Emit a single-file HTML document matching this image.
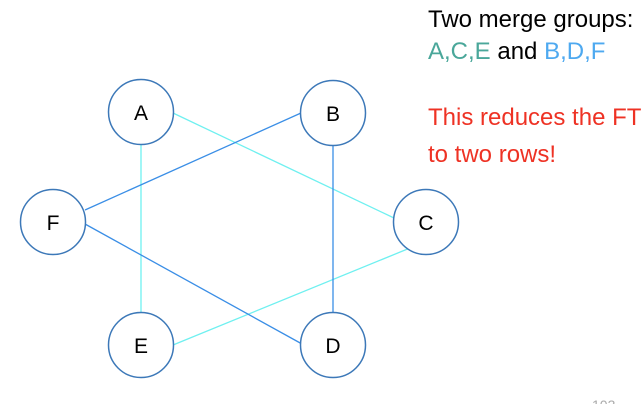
<!DOCTYPE html>
<html><head><meta charset="utf-8"><style>
body{margin:0;width:644px;height:404px;overflow:hidden;background:#fff;font-family:"Liberation Sans",sans-serif}
.t{position:absolute;left:428px;font-size:24px;white-space:nowrap;line-height:1;font-family:"Liberation Sans",sans-serif}
</style></head><body>
<svg width="644" height="404" style="position:absolute;left:0;top:0">
<g stroke-width="1.3" fill="none">
<line x1="173" y1="113" x2="394" y2="218" stroke="#6ff0f0"/>
<line x1="141" y1="145" x2="141" y2="312" stroke="#6ff0f0"/>
<line x1="410" y1="248" x2="173" y2="345" stroke="#6ff0f0"/>
<line x1="301" y1="113" x2="85" y2="210" stroke="#3a8ee6"/>
<line x1="333" y1="145" x2="333" y2="312" stroke="#3a8ee6"/>
<line x1="85" y1="224" x2="302" y2="344" stroke="#3a8ee6"/>
</g>
<g stroke="#3c78b8" stroke-width="1.5" fill="#fff">
<circle cx="141" cy="112" r="32.5"/>
<circle cx="333" cy="113" r="32.5"/>
<circle cx="426" cy="222" r="32.5"/>
<circle cx="333" cy="345" r="32.5"/>
<circle cx="141" cy="345" r="32.5"/>
<circle cx="53" cy="222" r="32.5"/>
</g>
<g font-family="Liberation Sans, sans-serif" font-size="21" text-anchor="middle" fill="#000">
<text x="141" y="120">A</text>
<text x="333" y="121">B</text>
<text x="426" y="230">C</text>
<text x="333" y="353">D</text>
<text x="141" y="353">E</text>
<text x="53" y="230">F</text>
</g>
<text x="592" y="410" font-size="14" fill="#aaa" font-family="Liberation Sans, sans-serif">103</text>
</svg>
<div class="t" style="top:8px;color:#000">Two merge groups:</div>
<div class="t" style="top:40px"><span style="color:#4aa79a">A,C,E</span> and <span style="color:#4ea9f0">B,D,F</span></div>
<div class="t" style="top:106px;color:#ee3224">This reduces the FT</div>
<div class="t" style="top:143px;color:#ee3224">to two rows!</div>
</body></html>
